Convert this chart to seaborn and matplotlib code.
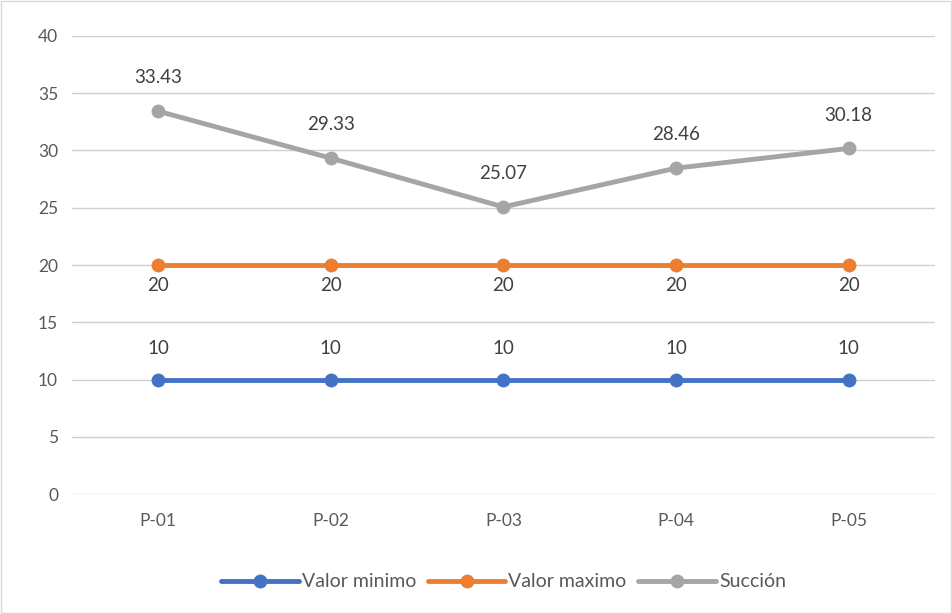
import pandas as pd
import matplotlib.pyplot as plt
import seaborn as sns

# datos del gráfico
puntos = ['P-01', 'P-02', 'P-03', 'P-04', 'P-05']
valor_minimo = [10, 10, 10, 10, 10]
valor_maximo = [20, 20, 20, 20, 20]
succion = [33.43, 29.33, 25.07, 28.46, 30.18]

series = ['Valor minimo', 'Valor maximo', 'Succión']
colores = ['#4472C4', '#ED7D31', '#A5A5A5']

df = pd.DataFrame({
    'punto': puntos * 3,
    'valor': valor_minimo + valor_maximo + succion,
    'serie': [s for s in series for _ in puntos],
})

sns.set_style('white')
plt.rcParams['font.family'] = ['Lato', 'DejaVu Sans']

fig = plt.figure(figsize=(9.53, 6.14), dpi=100)
ax = fig.add_axes([0.0755, 0.1954, 0.9055, 0.746])

sns.lineplot(data=df, x='punto', y='valor', hue='serie', hue_order=series,
             palette=colores, marker='o', markersize=10, markeredgewidth=0,
             linewidth=3.5, ax=ax, sort=False)

# etiquetas de datos
texto = '#404040'
for i, p in enumerate(puntos):
    ax.annotate(f'{valor_minimo[i]:g}', (i, valor_minimo[i]), xytext=(0, 22),
                textcoords='offset points', ha='center', va='center', fontsize=13.5, color=texto)
    ax.annotate(f'{valor_maximo[i]:g}', (i, valor_maximo[i]), xytext=(0, -15),
                textcoords='offset points', ha='center', va='center', fontsize=13.5, color=texto)
    ax.annotate(f'{succion[i]:.2f}', (i, succion[i]), xytext=(0, 24),
                textcoords='offset points', ha='center', va='center', fontsize=13.5, color=texto)

ax.set_xlim(-0.5, 4.5)
ax.set_ylim(0, 40)
ax.set_yticks(range(0, 41, 5))
ax.grid(axis='y', color='#D0D0D0', linewidth=1)
ax.set_axisbelow(True)
for s in ax.spines.values():
    s.set_visible(False)
ax.tick_params(axis='both', length=0, labelsize=12.5, labelcolor='#595959', pad=10)
ax.tick_params(axis='x', pad=14)
ax.set_xlabel('')
ax.set_ylabel('')

ax.legend(loc='upper center', bbox_to_anchor=(0.5, -0.135), ncol=3, frameon=False,
          fontsize=14, labelcolor='#595959', handlelength=4.0, handletextpad=0.15,
          columnspacing=0.6)

# borde del gráfico
fig.patches.append(plt.Rectangle((0.001, 0.001), 0.997, 0.997, transform=fig.transFigure,
                                 fill=False, edgecolor='#D9D9D9', linewidth=1))

plt.savefig('out.png', dpi=100)
